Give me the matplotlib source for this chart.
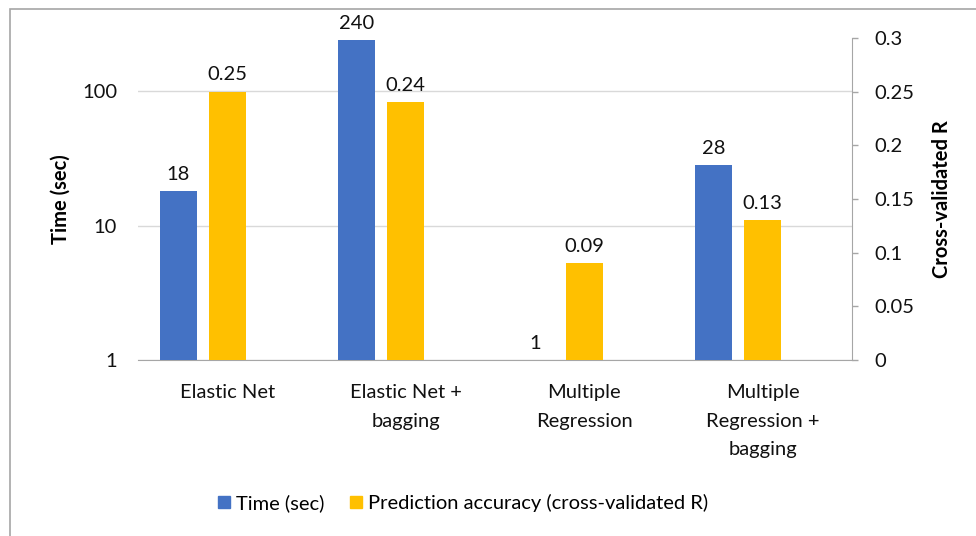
import numpy as np
import matplotlib
matplotlib.use('Agg')
import matplotlib.pyplot as plt
import matplotlib.patches as mpatches

plt.rcParams['font.family'] = ['Lato', 'DejaVu Sans']

# dane
methods = ['Elastic Net', 'Elastic Net +\nbagging', 'Multiple\nRegression',
           'Multiple\nRegression +\nbagging']
time_sec = [18, 240, 1, 28]
cv_r = [0.25, 0.24, 0.09, 0.13]
time_labels = ['18', '240', '1', '28']
r_labels = ['0.25', '0.24', '0.09', '0.13']

blue = '#4472C4'
gold = '#FFC000'
fs = 14.5

fig = plt.figure(figsize=(9.76, 5.36), dpi=100)
ax = fig.add_axes([138/976, 1 - 360/536, 714/976, 322/536])
ax2 = ax.twinx()

x = np.arange(len(methods))
w = 0.207
off = 0.275

# czas – skala logarytmiczna (lewa oś)
ax.set_yscale('log')
ax.set_ylim(1, 248)
ax.set_xlim(-0.5, len(methods) - 0.5)
bars_t = ax.bar(x - off, time_sec, w, bottom=0, color=blue, zorder=3)
for xi, v, lab in zip(x - off, time_sec, time_labels):
    ax.annotate(lab, (xi, v), xytext=(0, 6), textcoords='offset points',
                ha='center', va='bottom', fontsize=fs, color='#111111')

# dokładność (prawa oś)
ax2.set_ylim(0, 0.3)
bars_r = ax2.bar(x, cv_r, w, color=gold, zorder=3)
for xi, v, lab in zip(x, cv_r, r_labels):
    ax2.annotate(lab, (xi, v), xytext=(0, 6), textcoords='offset points',
                 ha='center', va='bottom', fontsize=fs, color='#111111')

ax.set_yticks([1, 10, 100])
ax.set_yticklabels(['1', '10', '100'])
ax.yaxis.set_minor_locator(matplotlib.ticker.NullLocator())
ax.tick_params(axis='y', length=0, pad=15, labelsize=fs, colors='#111111')
ax.grid(axis='y', color='#D9D9D9', linewidth=1, zorder=0)
ax.set_axisbelow(True)

ax.set_xticks(x)
ax.set_xticklabels(methods, linespacing=1.85)
ax.tick_params(axis='x', length=0, pad=17, labelsize=fs, colors='#111111')

ax2.set_yticks([0, 0.05, 0.1, 0.15, 0.2, 0.25, 0.3])
ax2.set_yticklabels(['0', '0.05', '0.1', '0.15', '0.2', '0.25', '0.3'])
ax2.tick_params(axis='y', length=4, width=1, color='#A6A6A6', pad=12,
                labelsize=fs, labelcolor='#111111')

for a in (ax, ax2):
    for s in ('top', 'left', 'right', 'bottom'):
        a.spines[s].set_visible(False)
ax.spines['bottom'].set_visible(True)
ax.spines['bottom'].set_color('#A6A6A6')
ax2.spines['right'].set_visible(True)
ax2.spines['right'].set_color('#A6A6A6')

ax.set_ylabel('Time (sec)', fontsize=fs, fontweight='bold')
ax.yaxis.set_label_coords(-0.094, 0.5)
ax2.set_ylabel('Cross-validated R', fontsize=fs, fontweight='bold')
ax2.yaxis.set_label_coords(1.112, 0.5)

handles = [mpatches.Patch(color=blue, label='Time (sec)'),
           mpatches.Patch(color=gold, label='Prediction accuracy (cross-validated R)')]
fig.legend(handles=handles, loc='center', bbox_to_anchor=(463/976, 1 - 503/536),
           ncol=2, frameon=False, fontsize=fs, handlelength=0.6, handleheight=0.6,
           handletextpad=0.3, columnspacing=1.3)

# ramka wykresu
fig.patches.append(mpatches.Rectangle((10/976, -0.1), 1.2, 0.1 + 1 - 9/536,
                                      transform=fig.transFigure, fill=False,
                                      edgecolor='#A6A6A6', linewidth=1.2))

fig.savefig('out.png', dpi=100)
